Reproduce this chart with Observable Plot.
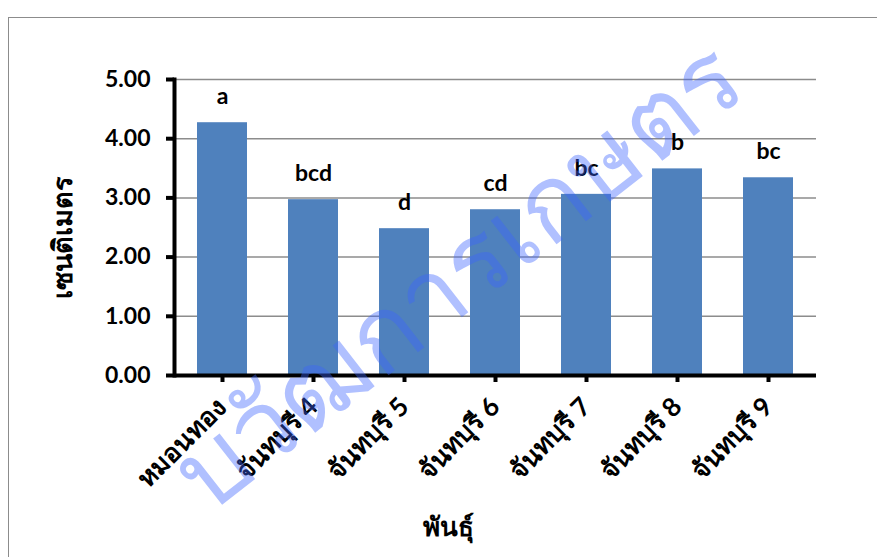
<!DOCTYPE html>
<html>
<head>
<meta charset="utf-8">
<script src="https://cdn.jsdelivr.net/npm/d3@7"></script>
<script src="https://cdn.jsdelivr.net/npm/@observablehq/plot@0.6"></script>
<style>
  html, body { margin: 0; padding: 0; background: #fff; overflow: hidden; }
  #wrap { position: relative; width: 877px; height: 557px; overflow: hidden; font-family: Lato, "Noto Sans", sans-serif; }
  #border { position: absolute; left: 8px; top: 17px; width: 920px; height: 620px; border: 1.5px solid #8c8c8c; box-sizing: border-box; }
  #chart { position: absolute; left: 0; top: 0; }
  .ylabel { position: absolute; left: 62px; top: 237px; transform: translate(-50%, -50%) rotate(-90deg); font-size: 27px; font-weight: bold; white-space: nowrap; color: #000; }
  .xlabel { position: absolute; left: 448px; top: 526px; transform: translate(-50%, -50%); font-size: 26px; font-weight: bold; white-space: nowrap; color: #000; }
  .watermark { position: absolute; left: 455px; top: 272px; transform: translate(-50%, -50%) rotate(-38deg); font-size: 104px; line-height: 1; white-space: nowrap; color: rgb(60, 100, 255); opacity: 0.4; pointer-events: none; }
</style>
</head>
<body>
<div id="wrap">
  <div id="border"></div>
  <div id="chart"></div>
  <div class="ylabel">เซนติเมตร</div>
  <div class="xlabel">พันธุ์</div>
  <div class="watermark">บวัฒการเกษตร</div>
</div>
<script>
const varieties = ["หมอนทอง", "จันทบุรี 4", "จันทบุรี 5", "จันทบุรี 6", "จันทบุรี 7", "จันทบุรี 8", "จันทบุรี 9"];
const heights = [4.27, 2.97, 2.48, 2.80, 3.06, 3.49, 3.34];
const letters = ["a", "bcd", "d", "cd", "bc", "b", "bc"];
const yTicks = [0, 1, 2, 3, 4, 5];

const data = varieties.map((v, i) => ({variety: v, height: heights[i], letter: letters[i]}));

const chart = Plot.plot({
  width: 877,
  height: 557,
  marginLeft: 174,
  marginRight: 61,
  marginTop: 79,
  marginBottom: 182,
  style: {fontFamily: 'Lato, "Noto Sans", sans-serif', fontWeight: "bold", background: "transparent", color: "#000"},
  x: {domain: varieties, paddingInner: 0.447, paddingOuter: 0.2235},
  y: {domain: [0, 5]},
  marks: [
    Plot.gridY(yTicks, {stroke: "#8c8c8c", strokeOpacity: 1, strokeWidth: 1.5}),
    Plot.barY(data, {x: "variety", y: "height", fill: "#4f81bd"}),
    Plot.text(data, {x: "variety", y: "height", text: "letter", dy: -26, fontSize: 23, fontWeight: "bold", fill: "#000"}),
    Plot.axisY(yTicks, {tickFormat: d3.format(".2f"), fontSize: 23, tickSize: 8, tickPadding: 16, strokeWidth: 4, label: null}),
    Plot.axisX({tickSize: 7, tickRotate: -45, fontSize: 26, tickPadding: 20, strokeWidth: 4, label: null}),
    Plot.frame({anchor: "left", strokeWidth: 4}),
    Plot.ruleY([0], {stroke: "#000", strokeWidth: 4})
  ]
});
document.getElementById("chart").appendChild(chart);
</script>
</body>
</html>
